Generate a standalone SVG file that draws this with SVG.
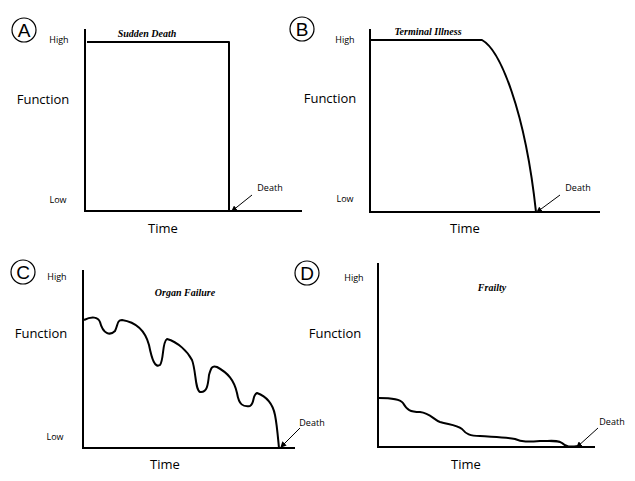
<svg xmlns="http://www.w3.org/2000/svg" width="635" height="481" viewBox="0 0 635 481">
<style>
.ax{fill:none;stroke:#000;stroke-width:2}
.cv{fill:none;stroke:#000;stroke-width:2;stroke-linejoin:round}
.ar{stroke:#000;stroke-width:1}
.s{font-family:"Open Sans","DejaVu Sans",sans-serif;font-size:9px;text-anchor:middle}
.f{font-family:"Open Sans","DejaVu Sans",sans-serif;font-size:13px;text-anchor:middle}
.t{font-family:"Liberation Serif",serif;font-size:10px;font-weight:bold;font-style:italic;text-anchor:middle}
.L{font-family:"Liberation Sans",sans-serif;font-size:19px;text-anchor:middle}
.c{fill:#fff;stroke:#000;stroke-width:1.2}
</style>
<defs><marker id="ah" markerWidth="6" markerHeight="6" refX="5" refY="3" orient="auto" markerUnits="userSpaceOnUse"><path d="M0,0L6,3L0,6z"/></marker></defs>
<rect width="635" height="481" fill="#fff"/>
<g id="panelA">
<circle class="c" cx="24" cy="30" r="12"/><text class="L" x="24" y="37">A</text>
<path class="ax" d="M85,29V211H302"/>
<path class="cv" d="M87,42H229V211"/>
<text class="s" x="59" y="43">High</text><text class="s" x="58" y="203">Low</text>
<text class="f" x="43" y="104">Function</text><text class="f" x="163" y="233">Time</text>
<text class="t" x="147" y="37">Sudden Death</text>
<text class="s" x="270" y="191">Death</text>
</g>
<g id="panelB">
<circle class="c" cx="302" cy="29" r="12"/><text class="L" x="302" y="36">B</text>
<path class="ax" d="M370,29V212H600"/>
<path class="cv" d="M371,40H482C500,50 525,110 536,212"/>
<text class="s" x="345" y="43">High</text><text class="s" x="345" y="202">Low</text>
<text class="f" x="330" y="103">Function</text><text class="f" x="465" y="233">Time</text>
<text class="t" x="428" y="35">Terminal Illness</text>
<text class="s" x="578" y="191">Death</text>
</g>
<g id="panelC">
<circle class="c" cx="23" cy="272" r="12"/><text class="L" x="23" y="279">C</text>
<path class="ax" d="M83,270V448H295"/>
<path class="cv" d="M84,320C92,316 98,317 100,322C103,334 110,336 115,331C118,325 117,320 122,320C135,322 145,330 149,345C152,360 155,368 160,365C164,360 162,342 167,339C178,342 188,352 192,360C196,370 195,390 200,392C207,393 208,385 209,375C211,368 212,365 217,367C228,373 234,380 237,393C239,405 243,407 250,406C255,403 252,395 257,393C268,397 273,405 275,415C277,425 278,438 279,448"/>
<text class="s" x="57" y="280">High</text><text class="s" x="55" y="440">Low</text>
<text class="f" x="41" y="338">Function</text><text class="f" x="165" y="469">Time</text>
<text class="t" x="185" y="296">Organ Failure</text>
<text class="s" x="312" y="426">Death</text>
</g>
<g id="panelD">
<circle class="c" cx="307" cy="273" r="12"/><text class="L" x="307" y="280">D</text>
<path class="ax" d="M378,263V447H595"/>
<path class="cv" d="M379,398C392,398 400,399 403,403C407,410 410,412 420,412C430,413 434,420 440,422C452,425 457,425 462,429C466,434 470,436 480,436C495,437 505,437 515,439C522,442 528,442 540,441C552,441 558,440 562,443C566,447 570,447 578,446"/>
<text class="s" x="354" y="281">High</text>
<text class="f" x="335" y="338">Function</text><text class="f" x="466" y="469">Time</text>
<text class="t" x="492" y="291">Frailty</text>
<text class="s" x="612" y="425">Death</text>
</g>
<g id="connectors">
<line class="ar" x1="252" y1="195" x2="232" y2="211" marker-end="url(#ah)"/>
<line class="ar" x1="560" y1="195" x2="537" y2="212" marker-end="url(#ah)"/>
<line class="ar" x1="300" y1="428" x2="281" y2="447" marker-end="url(#ah)"/>
<line class="ar" x1="598" y1="428" x2="577" y2="447" marker-end="url(#ah)"/>
</g>
</svg>
